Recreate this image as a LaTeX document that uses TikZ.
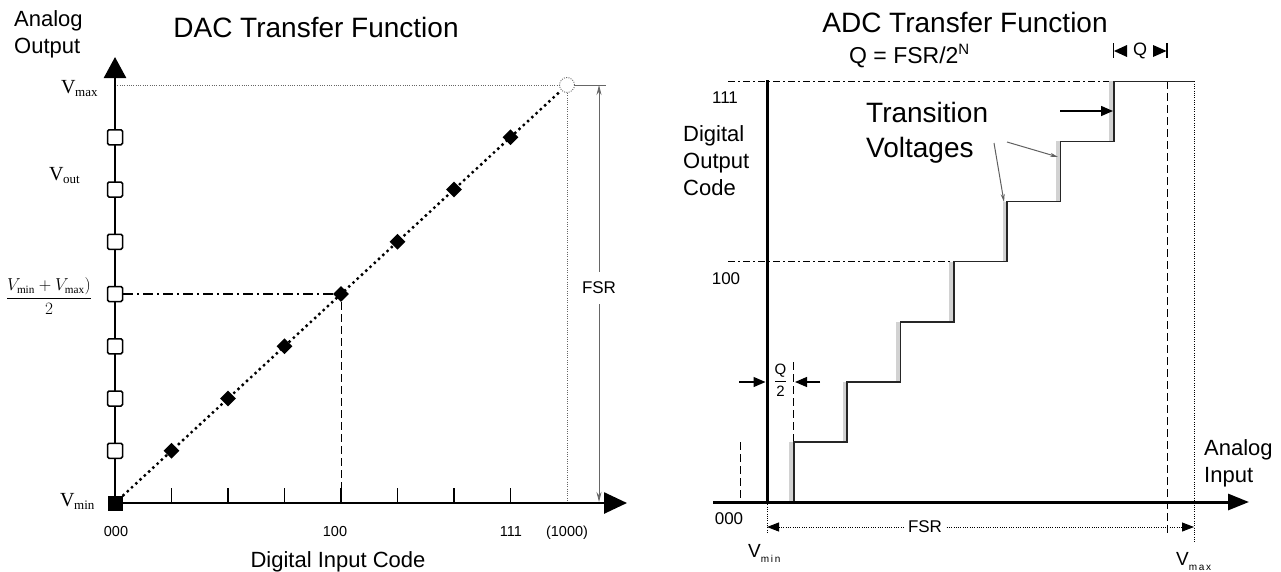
\documentclass[tikz,border=0pt]{standalone}
\usepackage{fontspec}
\setmainfont{Liberation Serif}
\newfontfamily\hel{Liberation Sans}
\usetikzlibrary{arrows.meta,shapes.geometric,calc}
\newcommand\hsz[1]{\fontsize{#1}{#1}\selectfont}
% serif voltage label with a large lowered subscript
\newcommand\Vsub[1]{V\kern-0.5pt\raisebox{-3pt}{\hsz{13}#1}}
% sans voltage label with a small spaced subscript
\newcommand\Wsub[1]{V\raisebox{-5pt}{\hsz{10}#1}}

\begin{document}
\begin{tikzpicture}[x=1pt,y=-1pt,
  every node/.style={inner sep=0pt},
  sans/.style={font=\hel\hsz{#1}},
  serif/.style={font=\hsz{20}},
  dacaxis/.style={line width=2.6pt},
  adcaxis/.style={line width=3pt},
  tickln/.style={line width=1.3pt},
  bigdots/.style={line width=3.4pt, line cap=round, dash pattern=on 0pt off 5.8pt},
  finedots/.style={gray!80!black, line width=0.9pt, dash pattern=on 1pt off 1.3pt},
  dashdotA/.style={line width=1.5pt, dash pattern=on 10pt off 4pt on 2pt off 4pt},
  dashdotB/.style={line width=1pt, dash pattern=on 7pt off 3pt on 2pt off 3pt},
  dashedln/.style={line width=1pt, dash pattern=on 8pt off 4pt},
  openbox/.style={draw, fill=white, line width=1.5pt, rounded corners=1.5pt, minimum size=15pt},
  codept/.style={diamond, fill, minimum size=16pt},
  stair/.style={line width=1.6pt, black!85},
  band/.style={line width=4pt, gray!35},
  fsrarrow/.style={gray!80!black, line width=0.9pt, -{Stealth[length=10pt,width=5pt]}},
  solidtip/.style={-{Triangle[length=12pt,width=10pt]}},
]
\useasboundingbox (0,0) rectangle (1281,571);

% ================= DAC transfer function =================
\node[sans=28, anchor=base] (dacT) at (316,37) {DAC Transfer Function};
\node[sans=22, anchor=base west] (aoA) at (14,26) {Analog};
\node[sans=22, anchor=base west] (aoB) at (14,53) {Output};

\coordinate (O) at (115,503);
\coordinate (yTip) at (115,57);
\coordinate (xTip) at (627,503);

% full-scale point and its guide lines
\node[circle, draw=gray, finedots, minimum size=15pt] (C) at (567,85) {};
\draw[finedots] (115,85) -- (C.west);
\draw[finedots] (C.south) -- (C.south |- O);

% ideal transfer line
\draw[bigdots] (O) -- (C);

% axes
\draw[dacaxis, -{Triangle[length=21pt,width=22pt]}] (O) -- (yTip);
\draw[dacaxis, -{Triangle[length=23pt,width=21pt]}] (O) -- (xTip);
\foreach \k in {1,...,7} {
  \draw[tickln] (115+56.5*\k,503) -- ++(0,-15);
}

% output levels and code points
\foreach \k in {1,...,7} {
  \node[openbox] (b\k) at (115,503-52.25*\k) {};
  \node[codept] (d\k) at (115+56.5*\k,503-52.25*\k) {};
}
\node[fill, minimum size=15pt] (o0) at (O) {};

% mid-scale guides
\draw[dashdotA] (b4) -- (d4);
\draw[dashedln] (d4.south) -- (d4.south |- O);

% full-scale range
\coordinate (fsrTop) at (599,85);
\coordinate (fsrBot) at (599,502);
\draw[gray!80!black, line width=0.9pt] (C.east) -- (606,85);
\node[sans=17] (fsrL) at (599,288) {FSR};
\draw[fsrarrow] ($(fsrL.north)+(0,-10)$) -- (fsrTop);
\draw[fsrarrow] ($(fsrL.south)+(0,10)$) -- (fsrBot);

% voltage labels
\node[serif, anchor=base west] (vmax) at (61,93) {\Vsub{max}};
\node[serif, anchor=base west] (vout) at (49,180) {\Vsub{out}};
\node[serif, anchor=base west] (vmin) at (60,506) {\Vsub{min}};
\node (vmid) at (49,296) {\hsz{16}$\displaystyle\frac{V_{\mathrm{min}}+V_{\mathrm{max}})}{2}$};

% code labels
\node[sans=14.5, anchor=base] (c000) at (116,536) {000};
\node[sans=14.5, anchor=base] (c100) at (335,536) {100};
\node[sans=14.5, anchor=base] (c111) at (511,536) {111};
\node[sans=14.5, anchor=base] (c1000) at (567,536) {(1000)};
\node[sans=22, anchor=base] (dic) at (338,567) {Digital Input Code};

% ================= ADC transfer function =================
\node[sans=28, anchor=base] (adcT) at (965,32) {ADC Transfer Function};
\node[sans=23, anchor=base west] (qdef) at (849,63) {Q = FSR/2\raisebox{9pt}{\hsz{15}N}};

\coordinate (A0) at (767,502);
\coordinate (aTop) at (767,80);
\coordinate (aLeft) at (713,502);
\coordinate (aTip) at (1249,502);

% reference levels
\draw[dashdotB] (728,81.3) -- (1114,81.3);
\draw[dashdotB] (728,261.6) -- (953.8,261.6);

% half-LSB and full-scale guides
\draw[dashedln] (740.3,442) -- (740.3,502);
\draw[dashedln] (793.7,362) -- (793.7,441.9);
\draw[dashedln] (1167.3,81.3) -- (1167.3,533);
\draw[finedots, black] (767,502) -- (767,533);
\draw[finedots, black] (1194,81.3) -- (1194,543);

% transition bands and staircase
\foreach \i in {0,...,6} {
  \draw[band] (791.2+53.375*\i,502-60.1*\i) -- (791.2+53.375*\i,441.9-60.1*\i);
}
\draw[stair] (793.7,502)
  -- (793.7,441.9) -- (847.1,441.9)
  -- (847.1,381.8) -- (900.4,381.8)
  -- (900.4,321.7) -- (953.8,321.7)
  -- (953.8,261.6) -- (1007.2,261.6)
  -- (1007.2,201.5) -- (1060.6,201.5)
  -- (1060.6,141.4) -- (1114,141.4)
  -- (1114,81.3) -- (1194,81.3);

% axes
\draw[adcaxis] (A0) -- (aTop);
\draw[adcaxis, -{Triangle[length=21pt,width=16pt]}] (aLeft) -- (aTip);

% Q marker
\draw[line width=1.2pt] (1113.5,43) -- (1113.5,58);
\draw[line width=1.2pt] (1167,43) -- (1167,58);
\fill (1114,51) -- (1127,45) -- (1127,57) -- cycle;
\fill (1166.5,51) -- (1153,45) -- (1153,57) -- cycle;
\node[sans=18] (qm) at (1140,51) {Q};

% Q/2 marker
\coordinate (qlA) at (739,382);
\coordinate (qlB) at (765.5,382);
\coordinate (qrA) at (820,382);
\coordinate (qrB) at (795,382);
\draw[line width=1.3pt, solidtip] (qlA) -- (qlB);
\draw[line width=1.3pt, solidtip] (qrA) -- (qrB);
\node[sans=15] (qhn) at (780.5,371) {Q};
\node[sans=15] (qhd) at (780.5,391.5) {2};
\draw[line width=0.9pt] (775,381) -- (786,381);

% transition voltage callouts
\node[sans=28, anchor=base west] (tvA) at (866,122) {Transition};
\node[sans=28, anchor=base west] (tvB) at (866,157) {Voltages};
\coordinate (t1) at (1060,111);
\coordinate (t1e) at (1113,111);
\coordinate (t2) at (1007,142);
\coordinate (t2e) at (1058,157);
\coordinate (t3) at (994,143);
\coordinate (t3e) at (1004,202);
\draw[line width=1.5pt, solidtip] (t1) -- (t1e);
\draw[gray!75!black, line width=1pt, -{Stealth[length=8pt,width=4pt]}] (t2) -- (t2e);
\draw[gray!75!black, line width=1pt, -{Stealth[length=8pt,width=4pt]}] (t3) -- (t3e);

% full-scale range
\coordinate (fsA) at (767,527);
\coordinate (fsB) at (1194,527);
\draw[finedots, black, {Triangle[length=12pt,width=9pt]}-{Triangle[length=12pt,width=9pt]}]
  (fsA) -- node[pos=0.37, sans=17, fill=white, inner xsep=3pt, inner ysep=1pt] (fsrR) {FSR} (fsB);

% labels
\node[sans=17] (k111) at (725,98) {111};
\node[sans=17] (k100) at (726,279) {100};
\node[sans=17] (k000) at (729,519) {000};
\node[sans=22, anchor=base west] (docA) at (683,141) {Digital};
\node[sans=22, anchor=base west] (docB) at (683,168) {Output};
\node[sans=22, anchor=base west] (docC) at (683,195) {Code};
\node[sans=22, anchor=base west] (aiA) at (1204,455) {Analog};
\node[sans=22, anchor=base west] (aiB) at (1204,482) {Input};
\node[sans=19, anchor=base west] (wmin) at (748,557) {\Wsub{m\,i\,n}};
\node[sans=19, anchor=base west] (wmax) at (1176,565) {\Wsub{m\,a\,x}};
\end{tikzpicture}
\end{document}
